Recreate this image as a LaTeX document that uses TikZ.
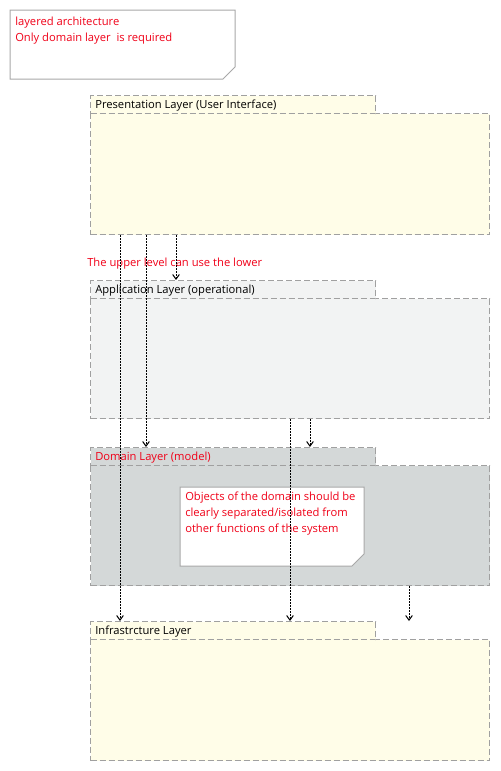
\documentclass[tikz,border=0pt]{standalone}
\usepackage{fontspec}
\setmainfont{Open Sans}
\usetikzlibrary{arrows.meta}
\definecolor{noteline}{HTML}{A8A8A8}
\definecolor{pkgline}{HTML}{A0A0A0}
\definecolor{yel}{HTML}{FFFDE8}
\definecolor{appl}{HTML}{F2F3F3}
\definecolor{domf}{HTML}{D4D8D8}
\definecolor{txtred}{HTML}{F00018}
\tikzset{
  pkgtab/.style={draw=pkgline, dash pattern=on 4.5pt off 2.25pt, line width=0.75pt, inner sep=0pt, anchor=north west, minimum width=213.75pt, minimum height=13.5pt},
  pkgbody/.style={draw=pkgline, dash pattern=on 4.5pt off 2.25pt, line width=0.75pt, inner sep=0pt, anchor=north west, minimum width=299.25pt, minimum height=90.75pt},
  tablabel/.style={anchor=west, inner sep=0pt, font=\fontsize{8.4}{10}\selectfont},
  notebox/.style={draw=noteline, fill=white, line width=0.75pt},
  notetext/.style={anchor=north west, inner sep=0pt, align=left, text=txtred, font=\fontsize{8.4}{12}\selectfont},
  dep/.style={draw=black, line width=0.75pt, dash pattern=on 1.5pt off 0.75pt, -{Straight Barb[length=3.5pt,width=5pt]}}
}
\begin{document}
\begin{tikzpicture}[x=0.75pt,y=-0.75pt]
\useasboundingbox (0,0) rectangle (500,771);
% note 1
\draw[notebox] (10,10) -- (235,10) -- (235,67) -- (223,79) -- (10,79) -- cycle;
\node[notetext] (n1) at (15,17) {layered architecture\\Only domain layer\ \ is required};
% Presentation
\node[pkgbody, fill=yel] (pbody) at (90,113) {};
\node[pkgtab, fill=yel] (ptab) at (90,95) {};
\node[tablabel] (plab) at (95,106) {Presentation Layer (User Interface)};
% Application
\node[pkgbody, fill=appl, minimum height=90pt] (abody) at (90,298) {};
\node[pkgtab, fill=appl] (atab) at (90,280) {};
\node[tablabel] (alab) at (95,291) {Application Layer (operational)};
% Domain
\node[pkgbody, fill=domf, minimum height=90pt] (dbody) at (90,465) {};
\node[pkgtab, fill=domf] (dtab) at (90,447) {};
\node[tablabel, text=txtred] (dlab) at (95,458) {Domain Layer (model)};
% note 2
\draw[notebox] (180,487) -- (364,487) -- (364,554) -- (352,566) -- (180,566) -- cycle;
\node[notetext] (n2) at (185,492) {Objects of the domain should be\\clearly separated/isolated from\\other functions of the system};
% Infrastructure
\node[pkgbody, fill=yel] (ibody) at (90,639) {};
\node[pkgtab, fill=yel] (itab) at (90,621) {};
\node[tablabel] (ilab) at (95,632) {Infrastrcture Layer};
% label
\node[anchor=west, inner sep=0pt, text=txtred, font=\fontsize{8.4}{10}\selectfont] (up) at (87,264) {The upper level can use the lower};
% dependencies
\coordinate (free) at ([xshift=239.25pt]itab.north west);
\draw[dep] ([xshift=22.5pt]pbody.south west) -- ([xshift=22.5pt]itab.north west);
\draw[dep] ([xshift=42pt]pbody.south west) -- ([xshift=42pt]dtab.north west);
\draw[dep] ([xshift=64.5pt]pbody.south west) -- ([xshift=64.5pt]atab.north west);
\draw[dep] ([xshift=150pt]abody.south west) -- ([xshift=150pt]itab.north west);
\draw[dep] ([xshift=165pt]abody.south west) -- ([xshift=165pt]dtab.north west);
\draw[dep] ([xshift=239.25pt]dbody.south west) -- (free);
\end{tikzpicture}
\end{document}
